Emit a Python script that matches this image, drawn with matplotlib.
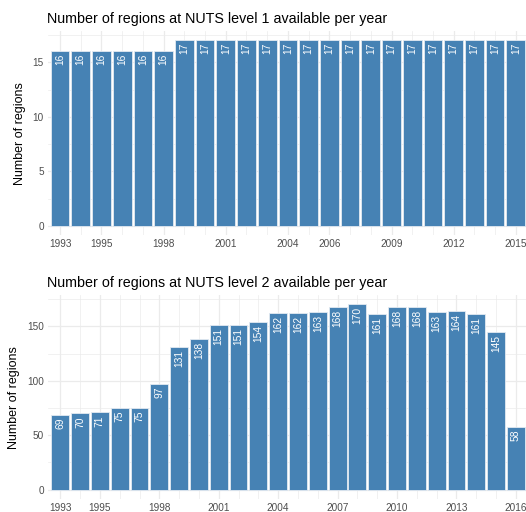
import matplotlib
matplotlib.use("Agg")
import matplotlib.pyplot as plt
import numpy as np

plt.rcParams['font.family'] = ['Liberation Sans', 'DejaVu Sans']

years1 = list(range(1993, 2016))
nuts1 = [16, 16, 16, 16, 16, 16] + [17] * 17
ticks1 = [1993, 1995, 1998, 2001, 2004, 2006, 2009, 2012, 2015]

years2 = list(range(1993, 2017))
nuts2 = [69, 70, 71, 75, 75, 97, 131, 138, 151, 151, 154, 162,
         162, 163, 168, 170, 161, 168, 168, 163, 164, 161, 145, 58]
ticks2 = [1993, 1995, 1998, 2001, 2004, 2007, 2010, 2013, 2016]

BAR = "#4682B4"
GRID = "#ebebeb"

fig = plt.figure(figsize=(5.26, 5.12), dpi=100)

def panel(rect, years, vals, ticks, title, ystep, xlim, pad):
    ax = fig.add_axes(rect)
    top = max(vals) * 1.05
    ax.set_ylim(-max(vals) * 0.05, top)
    ax.set_xlim(*xlim)
    # grid
    for y in np.arange(0, top, ystep / 2):
        major = abs((y / ystep) - round(y / ystep)) < 1e-6
        ax.axhline(y, color=GRID, lw=0.9 if major else 0.5, zorder=0)
    for x in years:
        ax.axvline(x, color=GRID, lw=0.9 if x in ticks else 0.5, zorder=0)
    ax.bar(years, vals, width=0.9, color=BAR, edgecolor="#e3eaf2", linewidth=0.6, zorder=2)
    for x, v in zip(years, vals):
        ax.annotate(str(v), (x, v), xytext=(0, -pad), textcoords="offset points",
                    rotation=90, ha="center", va="top", color="white",
                    fontsize=7.4, zorder=3)
    ax.set_xticks(ticks)
    ax.set_yticks(np.arange(0, top, ystep))
    ax.tick_params(length=0, labelsize=7.2, labelcolor="#4d4d4d", pad=3)
    for s in ax.spines.values():
        s.set_visible(False)
    ax.set_ylabel("Number of regions", fontsize=9, color="black", labelpad=5)
    ax.set_title(title, loc="left", fontsize=10.3, pad=6, x=-0.002)
    return ax

panel([0.0913, 0.541, 0.909, 0.398], years1, nuts1, ticks1,
      "Number of regions at NUTS level 1 available per year", 5,
      (1992.42, 2015.5), 1.5)
panel([0.0913, 0.0254, 0.909, 0.398], years2, nuts2, ticks2,
      "Number of regions at NUTS level 2 available per year", 50,
      (1992.38, 2016.52), 2)

fig.savefig("out.png", dpi=100)
